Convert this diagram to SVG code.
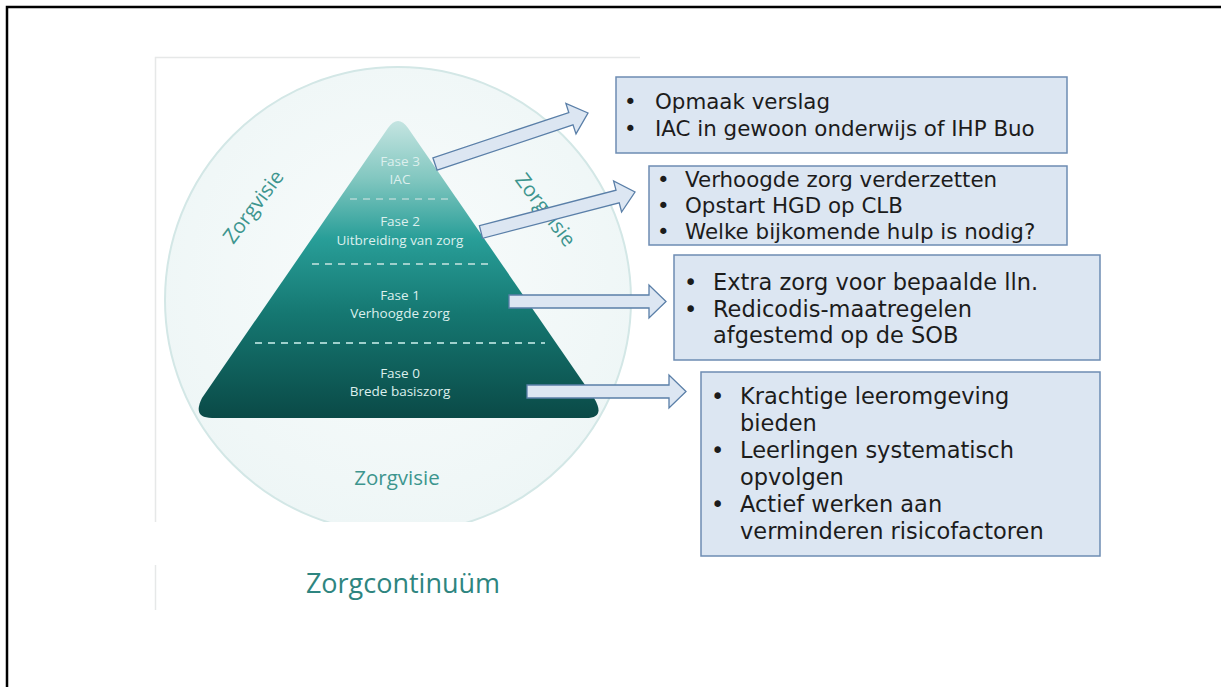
<svg xmlns="http://www.w3.org/2000/svg" width="1221" height="687" viewBox="0 0 1221 687">
<defs>
<style>
.ph{font-family:"Open Sans","DejaVu Sans",sans-serif;font-size:13.5px;fill:#dcefed;text-anchor:middle}
.zv{font-family:"Open Sans","DejaVu Sans",sans-serif;font-size:20.5px;fill:#3d958e;text-anchor:middle}
.bx{fill:#dce6f2;stroke:#6d8cb3;stroke-width:1.5}
.bt{font-family:"DejaVu Sans","Verdana",sans-serif;font-size:21.4px;fill:#1c1c1c}
.bt2{font-family:"DejaVu Sans","Verdana",sans-serif;font-size:22.5px;fill:#1c1c1c}
.arr{fill:#dce6f2;stroke:#5a7fa8;stroke-width:1.3;stroke-linejoin:miter}
.dash{stroke:#9fd0cc;stroke-width:2;stroke-dasharray:7 6;fill:none}
</style>
<linearGradient id="pg" x1="0" y1="118" x2="0" y2="420" gradientUnits="userSpaceOnUse">
<stop offset="0" stop-color="#c8e6e3"/>
<stop offset="0.2" stop-color="#82c7c0"/>
<stop offset="0.4" stop-color="#289e98"/>
<stop offset="0.65" stop-color="#157771"/>
<stop offset="1" stop-color="#0a4946"/>
</linearGradient>
<radialGradient id="cg" cx="0.5" cy="0.45" r="0.55">
<stop offset="0" stop-color="#f9fcfc"/>
<stop offset="1" stop-color="#eef6f6"/>
</radialGradient>
<clipPath id="cc"><rect x="150" y="50" width="500" height="472"/></clipPath>
</defs>
<rect x="0" y="0" width="1221" height="687" fill="#ffffff"/>
<path d="M7 687 V7 H1221" fill="none" stroke="#000" stroke-width="2.5"/>
<g id="panel">
<path d="M155.5 522 V57.5 H640" fill="none" stroke="#e6e8e8" stroke-width="1.5"/>
<path d="M155.5 565 V610" fill="none" stroke="#e6e8e8" stroke-width="1.5"/>
</g>
<g id="circle" clip-path="url(#cc)">
<circle cx="398" cy="300" r="233" fill="url(#cg)" stroke="#d3e7e6" stroke-width="2"/>
</g>
<g id="pyramid">
<path d="M388 128 Q398 114 408 128 L594 398 Q606 418 586 418 L212 418 Q192 418 202 398 Z" fill="url(#pg)"/>
<line class="dash" x1="350" y1="199" x2="452" y2="199"/>
<line class="dash" x1="312" y1="264" x2="490" y2="264"/>
<line class="dash" x1="255" y1="343" x2="545" y2="343"/>
</g>
<g id="fase3"><text class="ph" x="400" y="166">Fase 3</text><text class="ph" x="400" y="184">IAC</text></g>
<g id="fase2"><text class="ph" x="400" y="226">Fase 2</text><text class="ph" x="400" y="245">Uitbreiding van zorg</text></g>
<g id="fase1"><text class="ph" x="400" y="300">Fase 1</text><text class="ph" x="400" y="318">Verhoogde zorg</text></g>
<g id="fase0"><text class="ph" x="400" y="378">Fase 0</text><text class="ph" x="400" y="396">Brede basiszorg</text></g>
<g id="zorgvisie-labels">
<text class="zv" transform="translate(259,211) rotate(-53)">Zorgvisie</text>
<text class="zv" transform="translate(540,214) rotate(53)">Zorgvisie</text>
<text class="zv" x="397" y="485">Zorgvisie</text>
</g>
<g id="title"><text x="403" y="593" font-family="'Open Sans','DejaVu Sans',sans-serif" font-size="27" fill="#2e8580" text-anchor="middle">Zorgcontinuüm</text></g>
<g id="connectors">
<polygon class="arr" points="437.1,170.2 432.9,157.8 568.8,112.5 565.9,103.5 588,113 576.0,133.9 573.0,124.9"/>
<polygon class="arr" points="482.6,238.3 479.4,225.7 616.0,190.2 613.6,181.0 635,192 621.6,212.0 619.2,202.8"/>
<polygon class="arr" points="509,295 649,295 649,285 666,301.5 649,318 649,308 509,308"/>
<polygon class="arr" points="527,385 669,385 669,375 686,391.5 669,408 669,398 527,398"/>
</g>
<g id="box1">
<rect class="bx" x="616" y="77" width="451" height="76"/>
<text class="bt" x="624" y="109">•</text><text class="bt" x="655" y="109">Opmaak verslag</text>
<text class="bt" x="624" y="136">•</text><text class="bt" x="655" y="136">IAC in gewoon onderwijs of IHP Buo</text>
</g>
<g id="box2">
<rect class="bx" x="649" y="166" width="418" height="79"/>
<text class="bt" x="657" y="187">•</text><text class="bt" x="685" y="187">Verhoogde zorg verderzetten</text>
<text class="bt" x="657" y="213">•</text><text class="bt" x="685" y="213">Opstart HGD op CLB</text>
<text class="bt" x="657" y="239">•</text><text class="bt" x="685" y="239">Welke bijkomende hulp is nodig?</text>
</g>
<g id="box3">
<rect class="bx" x="674" y="255" width="426" height="105"/>
<text class="bt2" x="684" y="290">•</text><text class="bt2" x="713" y="290">Extra zorg voor bepaalde lln.</text>
<text class="bt2" x="684" y="317">•</text><text class="bt2" x="713" y="317">Redicodis-maatregelen</text>
<text class="bt2" x="713" y="343">afgestemd op de SOB</text>
</g>
<g id="box4">
<rect class="bx" x="701" y="372" width="399" height="184"/>
<text class="bt2" x="711" y="404">•</text><text class="bt2" x="740" y="404">Krachtige leeromgeving</text>
<text class="bt2" x="740" y="431">bieden</text>
<text class="bt2" x="711" y="458">•</text><text class="bt2" x="740" y="458">Leerlingen systematisch</text>
<text class="bt2" x="740" y="485">opvolgen</text>
<text class="bt2" x="711" y="512">•</text><text class="bt2" x="740" y="512">Actief werken aan</text>
<text class="bt2" x="740" y="539">verminderen risicofactoren</text>
</g>
</svg>
